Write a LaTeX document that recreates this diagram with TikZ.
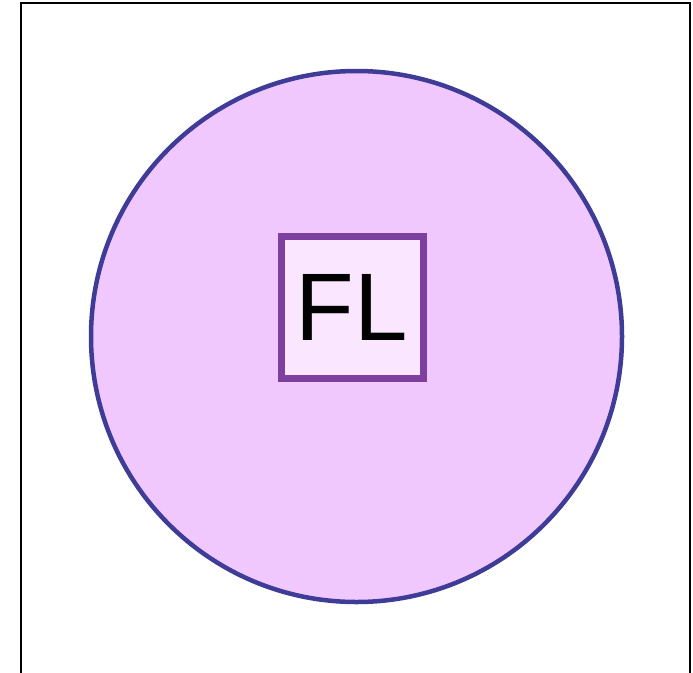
\documentclass[tikz,border=0pt]{standalone}
\usepackage{fontspec}
\setmainfont{Liberation Sans}
\usetikzlibrary{positioning}
\definecolor{cellfill}{RGB}{240,200,254}
\definecolor{cellline}{RGB}{62,60,150}
\definecolor{flline}{RGB}{125,64,160}
\definecolor{flfill}{RGB}{250,230,255}
\tikzset{
  cell/.style={circle, draw=cellline, line width=4.5pt, fill=cellfill, inner sep=0pt, minimum size=531pt},
  flbox/.style={rectangle, draw=flline, line width=7pt, fill=flfill, inner sep=0pt, minimum size=142pt, font=\fontsize{96}{100}\selectfont},
  frame/.style={line width=2pt, draw=black},
}
\begin{document}
\begin{tikzpicture}[x=1pt, y=-1pt]
  \useasboundingbox (0,0) rectangle (693,672);
  \draw[frame] (21,673) -- (21,3) -- (690,3) -- (690,673);
  \node[cell] (zone) at (356.5,336.5) {};
  \node[flbox] (fl) at (352,307) {FL};
\end{tikzpicture}
\end{document}
